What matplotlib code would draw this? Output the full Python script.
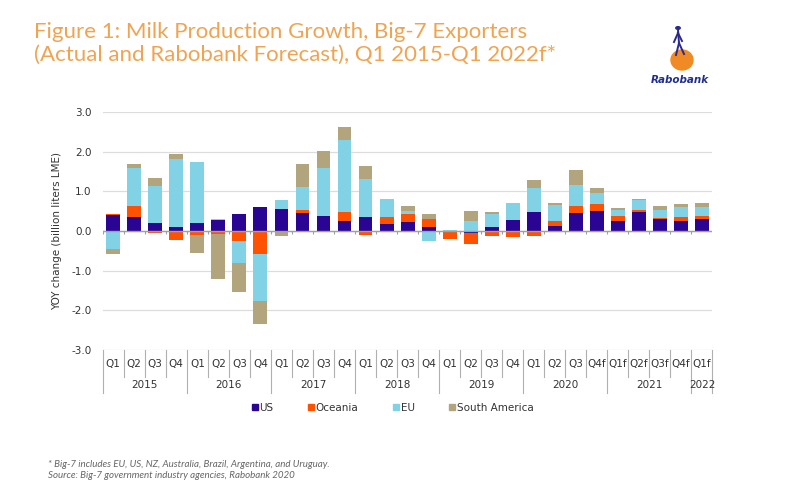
import matplotlib.pyplot as plt
import numpy as np
from matplotlib.patches import Ellipse, Circle
from matplotlib.lines import Line2D

# quarters: Q1 2015 .. Q1 2022 (forecast from Q4 2020)
quarters = ["Q1", "Q2", "Q3", "Q4"] * 5 + ["Q1", "Q2", "Q3", "Q4f",
                                          "Q1f", "Q2f", "Q3f", "Q4f", "Q1f"]
years = ["2015", "2016", "2017", "2018", "2019", "2020", "2021", "2022"]
year_sizes = [4, 4, 4, 4, 4, 4, 4, 1]

# YOY change, billion liters LME
us = [0.40, 0.36, 0.21, 0.10, 0.21, 0.28, 0.42, 0.60, 0.55, 0.45,
      0.37, 0.24, 0.35, 0.18, 0.23, 0.11, -0.02, -0.04, 0.11, 0.28,
      0.47, 0.13, 0.46, 0.51, 0.24, 0.48, 0.29, 0.26, 0.29]
oceania = [0.03, 0.27, -0.04, -0.22, -0.09, -0.08, -0.24, -0.58, 0.00, 0.08,
           0.02, 0.25, -0.09, 0.17, 0.21, 0.19, -0.17, -0.30, -0.13, -0.16,
           -0.13, 0.13, 0.18, 0.17, 0.13, 0.05, 0.04, 0.10, 0.08]
eu = [-0.45, 0.95, 0.93, 1.71, 1.52, 0.03, -0.57, -1.19, 0.23, 0.57,
      1.20, 1.81, 0.95, 0.45, 0.06, -0.26, 0.03, 0.24, 0.31, 0.42,
      0.62, 0.40, 0.52, 0.27, 0.17, 0.24, 0.20, 0.24, 0.24]
south_america = [-0.14, 0.10, 0.19, 0.13, -0.47, -1.14, -0.73, -0.58, -0.13, 0.58,
                 0.42, 0.31, 0.34, 0.00, 0.12, 0.14, 0.00, 0.26, 0.07, 0.00,
                 0.19, 0.05, 0.38, 0.14, 0.04, 0.03, 0.09, 0.09, 0.09]

series = [("US", us, "#2a0493"), ("Oceania", oceania, "#ff5200"),
          ("EU", eu, "#80d2e4"), ("South America", south_america, "#b2a47c")]

fig = plt.figure(figsize=(8, 4.88), dpi=100)
ax = fig.add_axes([0.1284, 0.2828, 0.7622, 0.4877])

x = np.arange(len(quarters))
pos_bottom = np.zeros(len(x))
neg_bottom = np.zeros(len(x))
for name, vals, col in series:
    v = np.array(vals)
    bottom = np.where(v >= 0, pos_bottom, neg_bottom)
    ax.bar(x, v, 0.66, bottom=bottom, color=col, label=name, zorder=3)
    pos_bottom += np.clip(v, 0, None)
    neg_bottom += np.clip(v, None, 0)

ax.set_xlim(-0.5, len(x) - 0.5)
ax.set_ylim(-3.0, 3.0)
ax.set_yticks(np.arange(-3, 3.1, 1.0))
ax.set_yticklabels([f"{t:.1f}" for t in np.arange(-3, 3.1, 1.0)])
ax.grid(axis="y", color="#dcdcdc", lw=0.9, zorder=0)
for s in ax.spines.values():
    s.set_visible(False)
ax.tick_params(axis="y", length=0, labelsize=7.5, labelcolor="#333333", pad=8)
ax.set_xticks([])
ax.set_ylabel("YOY change (billion liters LME)", fontsize=7.5, color="#333333", labelpad=7)

# zero line with small ticks at category boundaries
ax.axhline(0, color="#a0a0a0", lw=1.0, zorder=4)
ax.vlines(np.arange(len(x) + 1) - 0.5, -0.07, 0, color="#a0a0a0", lw=0.8, zorder=4)

# two-level category axis
trans = ax.get_xaxis_transform()
for i, q in enumerate(quarters):
    ax.text(i, -0.06, q, transform=trans, ha="center", va="center",
            fontsize=7.5, color="#333333", clip_on=False)
edges = np.concatenate([[0], np.cumsum(year_sizes)]) - 0.5
for e in np.arange(len(x) + 1) - 0.5:
    is_year = np.any(np.isclose(edges, e))
    ax.plot([e, e], [0, -0.113 if not is_year else -0.18], transform=trans,
            color="#b0b0b0", lw=0.8, clip_on=False)
for y, a, b in zip(years, edges[:-1], edges[1:]):
    ax.text((a + b) / 2, -0.148, y, transform=trans, ha="center", va="center",
            fontsize=7.5, color="#333333", clip_on=False)

# legend
handles = [Line2D([], [], marker="s", ls="", color=c, markersize=4.5) for _, _, c in series]
fig.legend(handles, [n for n, _, _ in series], loc="center", bbox_to_anchor=(0.49, 0.164),
           ncol=4, frameon=False, fontsize=7.5, handletextpad=0.05, columnspacing=3.2,
           handlelength=0.8, labelcolor="#333333")

# title
fig.text(0.043, 0.955, "Figure 1: Milk Production Growth, Big-7 Exporters\n"
         "(Actual and Rabobank Forecast), Q1 2015-Q1 2022f*",
         ha="left", va="top", fontsize=16, color="#f0a452", family=["Lato", "DejaVu Sans"],
         linespacing=1.2)

# footnote
fig.text(0.06, 0.016, "* Big-7 includes EU, US, NZ, Australia, Brazil, Argentina, and Uruguay.\n"
         "Source: Big-7 government industry agencies, Rabobank 2020",
         ha="left", va="bottom", fontsize=7, color="#666666", style="italic",
         family=["Liberation Sans Narrow", "Lato", "DejaVu Sans"], linespacing=1.35)

# logo
fig.patches.append(Ellipse((682 / 800, 1 - 60 / 488), 22 / 800, 20 / 488,
                           transform=fig.transFigure, color="#f08a24", zorder=2))
fig.patches.append(Circle((678 / 800, 1 - 28 / 488), 2.2 / 800,
                          transform=fig.transFigure, color="#2a2a8c", zorder=3))
for (x0, y0), (x1, y1) in [((678, 30), (679, 43)), ((679, 43), (676, 55)),
                           ((679, 43), (684, 54)), ((678, 33), (674, 42)),
                           ((678, 33), (682, 41))]:
    fig.lines.append(Line2D([x0 / 800, x1 / 800], [1 - y0 / 488, 1 - y1 / 488],
                            transform=fig.transFigure, color="#2a2a8c", lw=1.4, zorder=4))
fig.text(680 / 800, 1 - 80 / 488, "Rabobank", ha="center", va="center", fontsize=7.5,
         weight="bold", style="italic", color="#1f2f8f")

fig.savefig("out.png", dpi=100, facecolor="white")
